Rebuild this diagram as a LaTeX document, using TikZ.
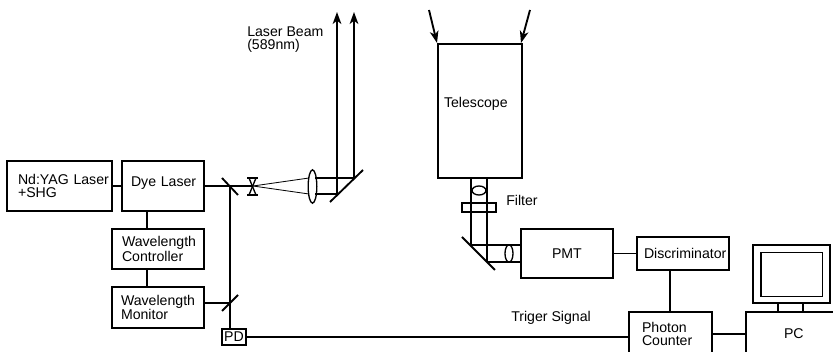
\documentclass[tikz,border=0pt]{standalone}
\usepackage{fontspec}
\setmainfont{Liberation Sans}
\usetikzlibrary{shapes, arrows, arrows.meta, positioning}
\tikzstyle{box} = [rectangle, draw=black, line width=1.4pt, outer sep=0pt, inner ysep=0pt, inner xsep=0pt, align=left, font=\fontsize{10.6}{9.75}\selectfont]
\tikzstyle{line} = [line width=1.4pt,-,>={Stealth[length=9pt,width=6.5pt,inset=2.5pt]}]
\tikzstyle{beam} = [line width=0.6pt,-]
\tikzstyle{label} = [inner sep=0pt, align=left, font=\fontsize{10.6}{9.75}\selectfont]
\tikzstyle{lens} = [ellipse, draw=black, line width=1pt, inner sep=0pt, outer sep=0pt]

\begin{document}
\begin{tikzpicture}[x=0.75pt,y=-0.75pt,node distance=7.5pt]
\useasboundingbox (0,0) rectangle (833,352);
\node (yag) [box, text width=62.25pt, inner xsep=8.25pt, minimum height=37.5pt, text depth=9.5pt] at (59.5,186) {\mbox{Nd:YAG Laser}\\+SHG};
\node (dye) [box, right=7.5pt of yag, text width=48pt, inner xsep=6.75pt, minimum height=37.5pt, text depth=6.5pt] {\mbox{Dye Laser}};
\node (control) [box, text width=54pt, inner xsep=7.5pt, minimum height=30pt] at (158,249) {Wavelength\\Controller};
\node (monitor) [box, below=13.5pt of control, text width=55.5pt, inner xsep=6.75pt, minimum height=30.75pt] {Wavelength\\Monitor};
\node (pd) [box, minimum width=18pt, minimum height=12pt] at (234,337) {PD};
\node (telescope) [box, text width=54pt, inner xsep=4.5pt, minimum height=100.5pt, text depth=13pt] at (480,111) {Telescope};
\node (filter) [box, minimum width=25.5pt, minimum height=6.75pt] at (479,207.5) {};
\node (pmt) [box, text width=22.5pt, inner xsep=23.25pt, minimum height=36.75pt] at (567,253.5) {PMT};
\node (disc) [box, right=18pt of pmt, text width=58.5pt, inner xsep=5.25pt, minimum height=24.75pt] {Discriminator};
\node (counter) [box, text width=42.75pt, inner xsep=9.75pt, minimum height=33pt] at (670.5,334) {Photon\\Counter};
\node (pc) [box, right=25.5pt of counter, text width=13.5pt, inner xsep=28.5pt, minimum height=33pt] {PC};
\node (screen) [box, minimum width=57.75pt, minimum height=43.5pt] at (791.5,274) {};
\node (tube) [box, chamfered rectangle, chamfered rectangle xsep=3pt, chamfered rectangle ysep=3pt, minimum width=46pt, minimum height=33pt, line width=1pt] at (791.5,274.5) {};
\node (expander) [lens, minimum width=6.5pt, minimum height=25pt] at (312.5,186.5) {};
\node (scope lens) [lens, minimum width=10.5pt, minimum height=6.75pt] at (479,190.5) {};
\node (pmt lens) [lens, minimum width=6pt, minimum height=13pt] at (509,253.5) {};
\node (beam label) [label, anchor=north west] at (247,27) {Laser Beam\\(589nm)};
\node (filter label) [label, anchor=west] at (506,200) {Filter};
\node (signal label) [label, anchor=west] at (511,318) {Triger Signal};

\coordinate (split1) at (230,186);
\coordinate (split2) at (230,303);
\coordinate (waist) at (253,186);
\coordinate (turn1) at (354,178);
\coordinate (turn2) at (337,194);
\coordinate (top1) at (354,12);
\coordinate (top2) at (337,12);
\coordinate (fold1) at (471,245);
\coordinate (fold2) at (487,262);

% laser side
\draw [line] (yag.east |- split1) -- (dye.west |- split1);
\draw [line] (dye.east |- split1) -- (split1) -- (waist);
\draw [line] (147,211) -- (147,229);
\draw [line] (147,269) -- (147,287);
\draw [line] (monitor.east |- split2) -- (split2);
\draw [line] (split1) -- (pd.north -| split1);
\draw [line] (222,178) -- (238,195);
\draw [line] (222,311) -- (238,295);

% expander and steering mirror
\draw [line] (247,178) -- (258,178);
\draw [line] (247,195) -- (258,195);
\draw [line, line width=1pt] (249,178) -- (256,195);
\draw [line, line width=1pt] (256,178) -- (249,195);
\draw [beam] (waist) -- (309,178);
\draw [beam] (waist) -- (309,194);
\draw [line] (315,178) -- (turn1);
\draw [line] (315,194) -- (turn2);
\draw [line,->] (turn1) -- (top1);
\draw [line,->] (turn2) -- (top2);
\draw [line] (330,202) -- (363,170);

% telescope side
\draw [line,->] (429,10) -- (437,43);
\draw [line,->] (530,10) -- (521,43);
\draw [line] (fold1 |- telescope.south) -- (fold1);
\draw [line] (fold2 |- telescope.south) -- (fold2);
\draw [line] (fold1) -- (fold1 -| pmt.west);
\draw [line] (fold2) -- (fold2 -| pmt.west);
\draw [line] (462,237) -- (495,270);

% electronics
\draw [line] (pmt.east) -- (disc.west);
\draw [line] (disc.south -| 670,0) -- (counter.north -| 670,0);
\draw [line] (pd.east) -- (pd.east -| counter.west);
\draw [line] (counter.east) -- (pc.west);
\draw [line] (778,303) -- (778,312);
\draw [line] (803,303) -- (803,312);
\end{tikzpicture}
\end{document}
